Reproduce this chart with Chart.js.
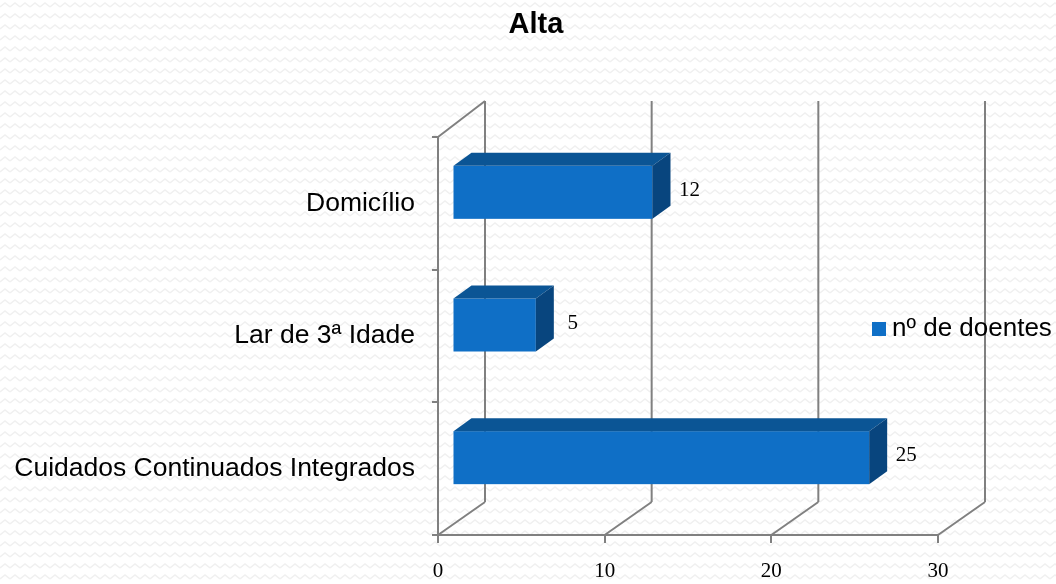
<!DOCTYPE html>
<html>
<head>
<meta charset="utf-8">
<title>Alta</title>
<script src="https://cdn.jsdelivr.net/npm/chart.js@4"></script>
<style>
  html, body { margin: 0; padding: 0; }
  body {
    width: 1056px;
    height: 584px;
    overflow: hidden;
    background-color: #ffffff;
    background-image: url("data:image/svg+xml,%3Csvg xmlns='http://www.w3.org/2000/svg' width='10' height='11'%3E%3Cpolyline points='0,7 5,3 10,7' fill='none' stroke='%23f0f0f0' stroke-width='1.5'/%3E%3C/svg%3E");
  }
  canvas { display: block; }
</style>
</head>
<body>
<canvas id="altaChart" width="1056" height="584"></canvas>
<script>
// ------------------ Data ------------------

const chartTitle = "Alta";
const categories = ["Domicílio", "Lar de 3ª Idade", "Cuidados Continuados Integrados"];
const doentes = [12, 5, 25];
const seriesName = "nº de doentes";
const xMin = 0;
const xMax = 30;
const xStep = 10;

// ------------------ 3D look ------------------

const FRONT = "#0f6fc6";
const TOP = "#0b5595";
const SIDE = "#08457e";
const LINE = "#808080";

// depth of the whole frame (floor / back wall)
const WALL_DX = 47;
const WALL_DY_TOP = -36;
const WALL_DY_BOTTOM = -33;
// where the bar front sits inside that depth, and how deep the bar is
const BAR_OFF_X = 14.5;
const BAR_OFF_Y = -11;
const BAR_DX = 18;
const BAR_DY = -13;

function line(ctx, x0, y0, x1, y1) {
  ctx.beginPath();
  ctx.moveTo(x0, y0);
  ctx.lineTo(x1, y1);
  ctx.stroke();
}

function drawBox(ctx, x0, x1, yTop, yBot) {
  ctx.fillStyle = FRONT;
  ctx.fillRect(x0, yTop, x1 - x0, yBot - yTop);

  ctx.fillStyle = TOP;
  ctx.beginPath();
  ctx.moveTo(x0, yTop);
  ctx.lineTo(x0 + BAR_DX, yTop + BAR_DY);
  ctx.lineTo(x1 + BAR_DX, yTop + BAR_DY);
  ctx.lineTo(x1, yTop);
  ctx.closePath();
  ctx.fill();

  ctx.fillStyle = SIDE;
  ctx.beginPath();
  ctx.moveTo(x1, yTop);
  ctx.lineTo(x1 + BAR_DX, yTop + BAR_DY);
  ctx.lineTo(x1 + BAR_DX, yBot + BAR_DY);
  ctx.lineTo(x1, yBot);
  ctx.closePath();
  ctx.fill();
}

const depth3d = {
  id: "depth3d",
  beforeDatasetsDraw(chart) {
    const ctx = chart.ctx;
    const { top, bottom, left } = chart.chartArea;
    const xs = chart.scales.x;
    ctx.save();
    ctx.strokeStyle = LINE;
    ctx.lineWidth = 2;
    // left wall top edge
    line(ctx, left, top, left + WALL_DX, top + WALL_DY_TOP);
    xs.ticks.forEach(t => {
      const px = xs.getPixelForValue(t.value);
      // back wall gridline
      line(ctx, px + WALL_DX, top + WALL_DY_TOP, px + WALL_DX, bottom + WALL_DY_BOTTOM);
      // floor
      line(ctx, px, bottom, px + WALL_DX, bottom + WALL_DY_BOTTOM);
    });
    ctx.restore();
  },
  beforeDatasetDraw() {
    // bars are drawn by hand below
    return false;
  },
  afterDatasetsDraw(chart) {
    const ctx = chart.ctx;
    const meta = chart.getDatasetMeta(0);
    const values = chart.data.datasets[0].data;
    ctx.save();
    meta.data.forEach((bar, i) => {
      const x0 = bar.base + BAR_OFF_X;
      const x1 = bar.x + BAR_OFF_X;
      const yc = bar.y + BAR_OFF_Y;
      const h = bar.height;
      drawBox(ctx, x0, x1, yc - h / 2, yc + h / 2);

      ctx.fillStyle = "#000";
      ctx.font = "21px 'Liberation Serif', 'DejaVu Serif', serif";
      ctx.textAlign = "center";
      ctx.textBaseline = "middle";
      ctx.fillText(String(values[i]), x1 + 37, yc - 2);
    });
    ctx.restore();
  },
  afterDraw(chart) {
    const ctx = chart.ctx;
    const { top, bottom, right } = chart.chartArea;
    ctx.save();

    // title
    ctx.fillStyle = "#000";
    ctx.font = "bold 29px 'Liberation Sans', Arial, sans-serif";
    ctx.textAlign = "center";
    ctx.textBaseline = "alphabetic";
    ctx.fillText(chartTitle, chart.width / 2 + 8, 33);

    // legend
    const lx = right - 66;
    const ly = (top + bottom) / 2 - 7;
    ctx.fillStyle = FRONT;
    ctx.fillRect(lx, ly - 7, 14, 14);
    ctx.fillStyle = "#000";
    ctx.font = "26px 'Liberation Sans', Arial, sans-serif";
    ctx.textAlign = "left";
    ctx.textBaseline = "middle";
    ctx.fillText(seriesName, lx + 20, ly);
    ctx.restore();
  }
};

// ------------------ Chart ------------------

const ctx = document.getElementById("altaChart").getContext("2d");

new Chart(ctx, {
  type: "bar",
  data: {
    labels: categories,
    datasets: [{
      label: seriesName,
      data: doentes,
      backgroundColor: FRONT,
      barThickness: 53
    }]
  },
  plugins: [depth3d],
  options: {
    responsive: false,
    animation: false,
    indexAxis: "y",
    layout: { padding: { left: 0, right: 118, top: 137, bottom: 0 } },
    plugins: {
      legend: { display: false },
      tooltip: { enabled: false },
      title: { display: false }
    },
    scales: {
      x: {
        min: xMin,
        max: xMax,
        ticks: {
          stepSize: xStep,
          color: "#000",
          padding: 16,
          font: { family: "'Liberation Serif', 'DejaVu Serif', serif", size: 21 }
        },
        grid: { drawOnChartArea: false, drawTicks: true, tickLength: 8, color: LINE, lineWidth: 2 },
        border: { display: true, color: LINE, width: 2 },
        afterFit(scale) { scale.height = 49; }
      },
      y: {
        ticks: {
          color: "#000",
          padding: 17,
          font: { family: "'Liberation Sans', Arial, sans-serif", size: 26.5 }
        },
        grid: { drawOnChartArea: false, drawTicks: true, tickLength: 6, color: LINE, lineWidth: 2 },
        border: { display: true, color: LINE, width: 2 },
        afterFit(scale) { scale.width = 438; }
      }
    }
  }
});
</script>
</body>
</html>
